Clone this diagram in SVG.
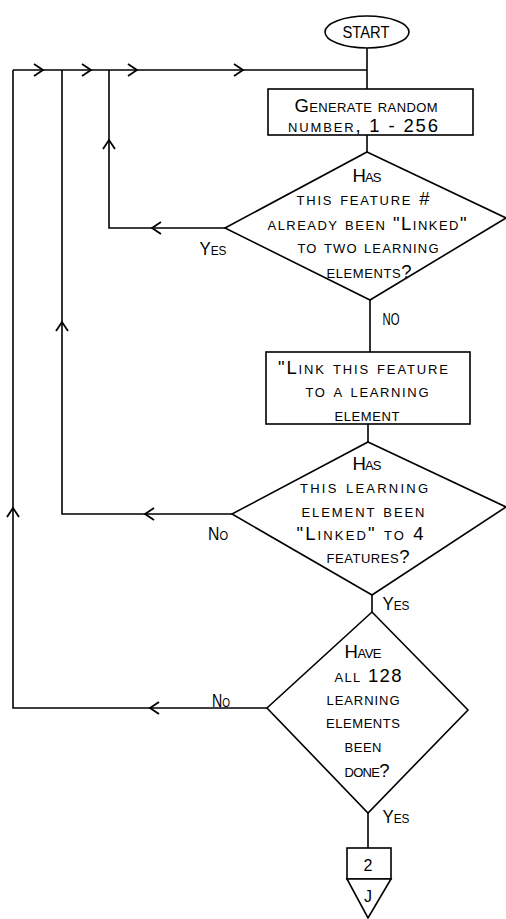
<svg xmlns="http://www.w3.org/2000/svg" xmlns:xlink="http://www.w3.org/1999/xlink" width="506" height="919" viewBox="0 0 506 919">
<style>
  .s{fill:#fff;stroke:#000;stroke-width:1.6;stroke-linejoin:miter}
  .c{fill:none;stroke:#000;stroke-width:1.6}
  .t{font-family:"Liberation Sans","DejaVu Sans",sans-serif;font-size:18.5px;font-variant:small-caps;fill:#000;text-anchor:middle}
  .u{font-family:"Liberation Sans","DejaVu Sans",sans-serif;font-size:16px;fill:#000;text-anchor:middle}
</style>
<defs>
  <path id="chev" d="M-9,-6 L0,0 L-9,6" fill="none" stroke="#000" stroke-width="1.8"/>
</defs>
<rect width="506" height="919" fill="#fff"/>
<g id="connectors">
  <path class="c" d="M367,48 V89"/>
  <path class="c" d="M13,70 H367"/>
  <path class="c" d="M367,135 V152"/>
  <path class="c" d="M225,228 H109 V70"/>
  <path class="c" d="M370,300 V352"/>
  <path class="c" d="M368,424 V442"/>
  <path class="c" d="M232,514 H62 V70"/>
  <path class="c" d="M372,595 V612"/>
  <path class="c" d="M267,708 H13 V70"/>
  <path class="c" d="M368,813 V848"/>
  <use xlink:href="#chev" transform="translate(43,70)"/>
  <use xlink:href="#chev" transform="translate(91,70)"/>
  <use xlink:href="#chev" transform="translate(137,70)"/>
  <use xlink:href="#chev" transform="translate(243,70)"/>
  <use xlink:href="#chev" transform="translate(152,228) rotate(180)"/>
  <use xlink:href="#chev" transform="translate(145,514) rotate(180)"/>
  <use xlink:href="#chev" transform="translate(150,708) rotate(180)"/>
  <use xlink:href="#chev" transform="translate(109,140) rotate(-90)"/>
  <use xlink:href="#chev" transform="translate(62,322) rotate(-90)"/>
  <use xlink:href="#chev" transform="translate(13,508) rotate(-90)"/>
  <text class="t" x="213" y="255" textLength="27" lengthAdjust="spacingAndGlyphs">Yes</text>
  <text class="u" x="391" y="325" textLength="17" lengthAdjust="spacingAndGlyphs">NO</text>
  <text class="t" x="218" y="540" textLength="20" lengthAdjust="spacingAndGlyphs">No</text>
  <text class="t" x="396" y="610" textLength="27" lengthAdjust="spacingAndGlyphs">Yes</text>
  <text class="t" x="221" y="707" textLength="18" lengthAdjust="spacingAndGlyphs">No</text>
  <text class="t" x="396" y="823" textLength="27" lengthAdjust="spacingAndGlyphs">Yes</text>
</g>
<g id="start">
  <ellipse class="s" cx="367" cy="32" rx="42" ry="16"/>
  <text class="u" x="366" y="38" textLength="47" lengthAdjust="spacingAndGlyphs">START</text>
</g>
<g id="generate">
  <rect class="s" x="268" y="89" width="205" height="46"/>
  <text class="t" x="366" y="112" textLength="143" lengthAdjust="spacing">Generate random</text>
  <text class="t" x="363" y="132" textLength="150" lengthAdjust="spacing">number, 1 - 256</text>
</g>
<g id="decision1">
  <polygon class="s" points="367,152 506,218 370,300 225,228"/>
  <text class="t" x="367" y="182" textLength="29" lengthAdjust="spacing">Has</text>
  <text class="t" x="363" y="205" textLength="133" lengthAdjust="spacing">this feature #</text>
  <text class="t" x="367" y="230" textLength="199" lengthAdjust="spacing">already been "Linked"</text>
  <text class="t" x="368" y="253" textLength="141" lengthAdjust="spacing">to two learning</text>
  <text class="t" x="369" y="278" textLength="85" lengthAdjust="spacing">elements?</text>
</g>
<g id="link">
  <rect class="s" x="266" y="352" width="204" height="72"/>
  <text class="t" x="363" y="374" textLength="170" lengthAdjust="spacing">"Link this feature</text>
  <text class="t" x="367" y="397" textLength="123" lengthAdjust="spacing">to a learning</text>
  <text class="t" x="367" y="421" textLength="65" lengthAdjust="spacing">element</text>
</g>
<g id="decision2">
  <polygon class="s" points="368,442 506,507 372,595 232,514"/>
  <text class="t" x="367" y="470" textLength="29" lengthAdjust="spacing">Has</text>
  <text class="t" x="364" y="493" textLength="128" lengthAdjust="spacing">this learning</text>
  <text class="t" x="363" y="517" textLength="123" lengthAdjust="spacing">element been</text>
  <text class="t" x="360" y="540" textLength="127" lengthAdjust="spacing">"Linked" to 4</text>
  <text class="t" x="368" y="563" textLength="83" lengthAdjust="spacing">features?</text>
</g>
<g id="decision3">
  <polygon class="s" points="372,612 468,710 368,813 267,708"/>
  <text class="t" x="363" y="658" textLength="37" lengthAdjust="spacing">Have</text>
  <text class="t" x="368" y="682" textLength="67" lengthAdjust="spacing">all 128</text>
  <text class="t" x="363" y="705" textLength="73" lengthAdjust="spacing">learning</text>
  <text class="t" x="363" y="728" textLength="74" lengthAdjust="spacing">elements</text>
  <text class="t" x="363" y="752" textLength="37" lengthAdjust="spacing">been</text>
  <text class="t" x="367" y="777" textLength="45" lengthAdjust="spacing">done?</text>
</g>
<g id="connector2">
  <rect class="s" x="347" y="848" width="44" height="31"/>
  <polygon class="s" points="347,879 391,879 368,918"/>
  <text class="u" x="368" y="871">2</text>
  <text class="u" x="368" y="902">J</text>
</g>
</svg>
